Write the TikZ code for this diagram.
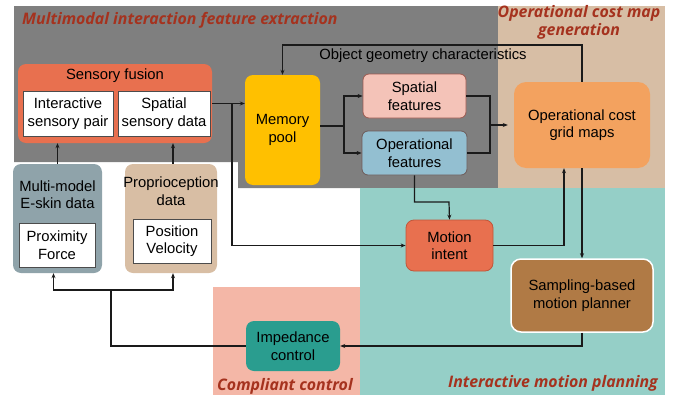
\documentclass[tikz,border=0pt]{standalone}
\usepackage{fontspec}
\setmainfont{Liberation Sans}
\newfontfamily\ttlfont{Open Sans}
\usetikzlibrary{arrows.meta,calc}
\definecolor{regGray}{HTML}{7F7F7F}
\definecolor{regTan}{HTML}{D7BEA5}
\definecolor{regTeal}{HTML}{95CFC7}
\definecolor{regPink}{HTML}{F4B7A7}
\definecolor{cSF}{HTML}{E8704F}
\definecolor{cES}{HTML}{8FA3AA}
\definecolor{cPR}{HTML}{D8BEA4}
\definecolor{cMem}{HTML}{FFC000}
\definecolor{cSp}{HTML}{F4C3B8}
\definecolor{cSpB}{HTML}{9E5A50}
\definecolor{cOf}{HTML}{93BFD1}
\definecolor{cOfB}{HTML}{6E5A58}
\definecolor{cGm}{HTML}{F3A25F}
\definecolor{cMi}{HTML}{E8704F}
\definecolor{cMiB}{HTML}{C0563A}
\definecolor{cSbp}{HTML}{B07A45}
\definecolor{cIc}{HTML}{2A9D8F}
\definecolor{cTtl}{HTML}{A5321E}
\definecolor{cLine}{HTML}{1A1A1A}
\tikzset{
  txt/.style={font=\fontsize{14.8}{17.5}\selectfont, align=center, text=black, inner sep=0pt},
  rbox/.style={txt, rounded corners=8pt},
  wbox/.style={txt, fill=white, draw=black!70, line width=0.9pt},
  ttl/.style={font=\ttlfont\bfseries\itshape\fontsize{15.9}{18}\selectfont, text=cTtl, align=center, inner sep=0pt},
  arr/.style={draw=cLine, line width=1.2pt, -{Stealth[length=5pt,width=4pt]}},
  ln/.style={draw=cLine, line width=1.2pt},
}
\begin{document}
\begin{tikzpicture}[x=1pt,y=-1pt]
\useasboundingbox (0,0) rectangle (678,399);
% regions
\fill[regGray] (14,6) -- (498,6) -- (498,188) -- (238,188) -- (238,162) -- (14,162) -- cycle;
\fill[regTan] (498,6) rectangle (665,188);
\fill[regTeal] (360,188) rectangle (665,395);
\fill[regPink] (213,287) rectangle (360,395);
% region titles
\node[ttl, anchor=west] (t1) at (22,20) {Multimodal interaction feature extraction};
\node[ttl] (t2) at (579,22.5) {Operational cost map\\[0.5pt]generation};
\node[ttl] (t3) at (285,386) {Compliant control};
\node[ttl] (t4) at (553,383) {Interactive motion planning};
% nodes
\node[rbox, fill=cSF, minimum width=194pt, minimum height=79pt] (sf) at (115,103.5) {};
\node[txt] (sft) at (115,76) {Sensory fusion};
\node[wbox, minimum width=90pt, minimum height=45pt] (isp) at (68,113.5) {Interactive\\sensory pair};
\node[wbox, minimum width=92pt, minimum height=45pt] (ssd) at (164,113.5) {Spatial\\sensory data};
\node[rbox, fill=cES, minimum width=89pt, minimum height=109pt] (es) at (57.5,218.5) {};
\node[txt] (est) at (57.5,194.5) {Multi-model\\E-skin data};
\node[wbox, minimum width=76pt, minimum height=44pt] (pf) at (57,245) {Proximity\\Force};
\node[rbox, fill=cPR, minimum width=92pt, minimum height=109pt] (pr) at (171,218.5) {};
\node[txt] (prt) at (171,191) {Proprioception\\data};
\node[wbox, minimum width=78pt, minimum height=44pt] (pv) at (172,241) {Position\\Velocity};
\node[rbox, fill=cMem, minimum width=75pt, minimum height=110pt] (mem) at (282.5,130) {Memory\\pool};
\node[rbox, rounded corners=6pt, fill=cSp, draw=cSpB, line width=0.8pt, minimum width=103pt, minimum height=44pt] (sp) at (414.5,96) {Spatial\\features};
\node[rbox, rounded corners=6pt, fill=cOf, draw=cOfB, line width=0.8pt, minimum width=105pt, minimum height=44pt] (of) at (414.5,153) {Operational\\features};
\node[rbox, rounded corners=12pt, fill=cGm, minimum width=136pt, minimum height=86pt] (gm) at (582,125) {Operational cost\\grid maps};
\node[rbox, fill=cMi, draw=cMiB, line width=0.8pt, minimum width=87pt, minimum height=51pt] (mi) at (449.5,245.5) {Motion\\intent};
\node[rbox, rounded corners=10pt, fill=cSbp, draw=white, line width=1.5pt, minimum width=142pt, minimum height=73pt] (sbp) at (582,295.5) {Sampling-based\\motion planner};
\node[rbox, fill=cIc, minimum width=94pt, minimum height=50pt] (ic) at (293,346) {Impedance\\control};
\node[txt] (ogc) at (423,56) {Object geometry characteristics};
% coordinates
\coordinate (j1) at (232,103.5);
\coordinate (j2) at (344,126);
\coordinate (j3) at (490,125);
\coordinate (ctop) at (582,45);
\coordinate (k1) at (449,202);
\coordinate (k2) at (111,290);
% connectors
\draw[arr] (sf.east) -- (sf.east -| mem.west);
\draw[arr] (j1) |- (mi.west);
\draw[ln] (mem.east |- j2) -- (j2);
\draw[arr] (j2) |- (sp.west);
\draw[arr] (j2) |- (of.west);
\draw[ln] (sp.east) -| (j3);
\draw[ln] (of.east) -| (j3);
\draw[arr, shorten >=6pt] (j3) -- (gm.west);
\draw[arr] (gm.north) -- (ctop) -| (mem.north);
\draw[arr] (of.south) |- (k1) -- (mi.north);
\draw[arr] (mi.east) -| ([xshift=-18pt]gm.south);
\draw[arr] (gm.south) -- (sbp.north);
\draw[arr] (sbp.south) |- (ic.east);
\draw[ln] (ic.west) -| (k2);
\draw[arr] (k2) -| ([xshift=-4pt]es.south);
\draw[arr] (k2) -| ([xshift=2pt]pr.south);
\draw[arr] (es.north) -- (es.north |- sf.south);
\draw[arr] ([xshift=2pt]pr.north) -- ([xshift=2pt]pr.north |- sf.south);
\end{tikzpicture}
\end{document}
